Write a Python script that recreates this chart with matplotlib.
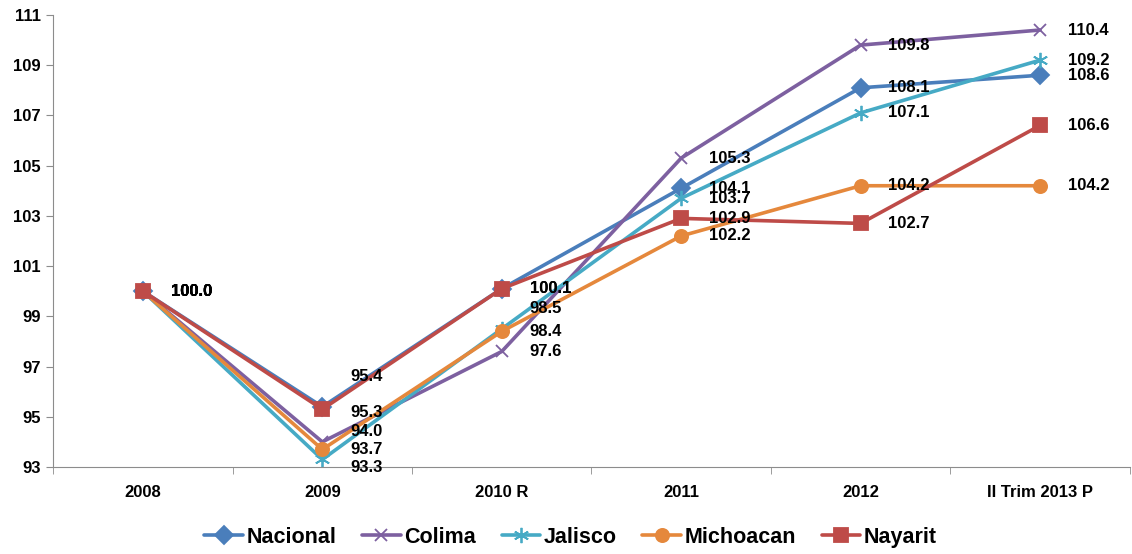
import matplotlib
matplotlib.use("Agg")
import matplotlib.pyplot as plt
import numpy as np
from matplotlib.ticker import FixedLocator

# data
periods = ['2008', '2009', '2010 R', '2011', '2012', 'II Trim 2013 P']
nacional = [100.0, 95.4, 100.1, 104.1, 108.1, 108.6]
colima = [100.0, 94.0, 97.6, 105.3, 109.8, 110.4]
jalisco = [100.0, 93.3, 98.5, 103.7, 107.1, 109.2]
michoacan = [100.0, 93.7, 98.4, 102.2, 104.2, 104.2]
nayarit = [100.0, 95.3, 100.1, 102.9, 102.7, 106.6]

series = [
    ('Nacional', nacional, '#4A7EBB', 'D', 9),
    ('Colima', colima, '#7D60A0', 'x', 9),
    ('Jalisco', jalisco, '#46AAC5', (6, 2, 0), 11),
    ('Michoacan', michoacan, '#E5883C', 'o', 9.5),
    ('Nayarit', nayarit, '#BE4B48', 's', 10),
]

# vertical nudges (pixels) for labels that Excel moved apart
nudge = {('Nacional', 1): 30, ('Nayarit', 1): -3, ('Colima', 1): 10,
         ('Jalisco', 1): -8, ('Jalisco', 2): 20}

plt.rcParams['font.family'] = ['Liberation Sans', 'DejaVu Sans']
fig = plt.figure(figsize=(11.32, 5.54), dpi=100)
ax = fig.add_axes([0.047, 0.157, 0.951, 0.816])

x = np.arange(len(periods))
for name, vals, col, mk, ms in series:
    ax.plot(x, vals, color=col, lw=2.6, marker=mk, ms=ms, mew=1.3,
            mec=col, mfc=col, label=name, solid_capstyle='round')

for name, vals, col, mk, ms in series:
    for i, v in enumerate(vals):
        dy = nudge.get((name, i), 0)
        ax.annotate('%.1f' % v, (x[i], v), xytext=(20, dy * 0.72),
                    textcoords='offset points', ha='left', va='center',
                    fontsize=12, fontweight='bold', color='black')

ax.set_xlim(-0.5, len(periods) - 0.5)
ax.set_ylim(93, 111)
ax.set_yticks(np.arange(93, 112, 2))
ax.set_xticks(x)
ax.set_xticklabels(periods)
ax.xaxis.set_minor_locator(FixedLocator(np.arange(-0.5, len(periods), 1.0)))
ax.tick_params(axis='x', which='major', length=0, pad=13)
ax.tick_params(axis='x', which='minor', length=5, color='#8C8C8C', direction='out')
ax.tick_params(axis='y', length=5, color='#8C8C8C', direction='out', pad=4)
for lab in ax.get_xticklabels() + ax.get_yticklabels():
    lab.set_fontweight('bold')
    lab.set_fontsize(12)

for s in ['top', 'right']:
    ax.spines[s].set_visible(False)
for s in ['left', 'bottom']:
    ax.spines[s].set_color('#8C8C8C')

leg = fig.legend(loc='lower center', ncol=5, frameon=False,
                 bbox_to_anchor=(0.504, -0.024), handlelength=1.8,
                 columnspacing=1.2, handletextpad=0.15,
                 prop={'weight': 'bold', 'size': 15.5})

fig.savefig('out.png', dpi=100)
